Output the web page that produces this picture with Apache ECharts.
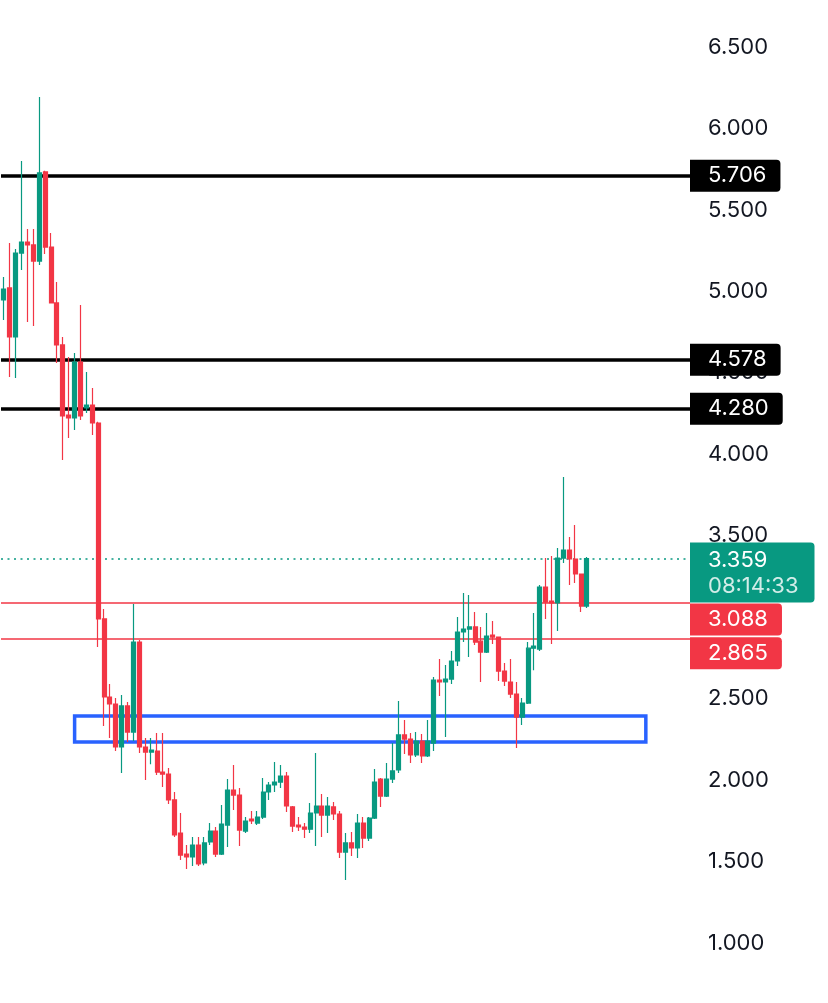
<!DOCTYPE html>
<html>
<head>
<meta charset="utf-8">
<script src="https://cdn.jsdelivr.net/npm/echarts@6/dist/echarts.min.js"></script>
<style>
html,body{margin:0;padding:0;background:#ffffff;}
#chart{width:828px;height:1003px;}
</style>
</head>
<body>
<div id="chart"></div>
<script>
// ---- data ----
const opens  = [4.947,5.021,4.720,5.235,5.303,5.285,5.186,5.733,5.272,4.929,
                4.671,4.241,4.223,4.566,4.284,4.302,4.192,2.989,2.510,2.467,
                2.203,2.455,2.295,2.847,2.203,2.172,2.178,2.049,2.037,1.878,
                1.675,1.546,1.528,1.601,1.491,1.620,1.687,1.546,1.724,1.939,
                1.908,1.687,1.761,1.736,1.773,1.927,1.970,1.988,2.025,1.835,
                1.724,1.712,1.699,1.798,1.841,1.785,1.835,1.792,1.558,1.614,
                1.583,1.736,1.644,1.767,2.006,1.902,2.006,2.062,2.277,2.252,
                2.154,2.240,2.148,2.227,2.614,2.602,2.620,2.731,2.909,2.927,
                2.940,2.853,2.786,2.890,2.878,2.669,2.602,2.528,2.387,2.473,
                2.810,2.804,3.185,3.099,3.087,3.363,3.412,3.357,3.265,3.068];
const closes = [5.014,4.720,5.235,5.303,5.285,5.186,5.727,5.272,4.929,4.671,
                4.235,4.223,4.566,4.235,4.302,4.192,2.989,2.510,2.467,2.203,
                2.455,2.295,2.847,2.203,2.172,2.184,2.049,2.037,1.878,1.663,
                1.540,1.528,1.601,1.485,1.614,1.687,1.546,1.730,1.939,1.908,
                1.693,1.749,1.749,1.773,1.927,1.970,1.988,2.025,1.841,1.718,
                1.712,1.699,1.798,1.841,1.785,1.841,1.792,1.558,1.614,1.583,
                1.736,1.644,1.767,1.988,1.902,2.006,2.056,2.277,2.252,2.154,
                2.240,2.148,2.240,2.614,2.602,2.620,2.731,2.909,2.927,2.940,
                2.847,2.786,2.884,2.878,2.669,2.608,2.528,2.387,2.473,2.810,
                2.823,3.185,3.093,3.087,3.363,3.412,3.357,3.265,3.068,3.359];
const lows   = [4.824,4.474,4.468,5.131,4.812,4.787,5.162,5.229,4.925,4.560,
                3.965,4.100,4.149,4.210,4.253,4.118,2.817,2.332,2.258,2.178,
                2.043,2.234,2.240,2.166,2.000,2.098,2.031,1.957,1.853,1.650,
                1.509,1.454,1.472,1.472,1.478,1.601,1.528,1.540,1.589,1.816,
                1.595,1.675,1.730,1.724,1.761,1.878,1.927,1.951,1.804,1.681,
                1.687,1.644,1.675,1.595,1.650,1.675,1.755,1.521,1.387,1.534,
                1.521,1.583,1.626,1.761,1.835,1.896,1.982,2.043,2.160,2.105,
                2.142,2.105,2.142,2.178,2.516,2.264,2.590,2.700,2.847,2.755,
                2.829,2.602,2.780,2.835,2.608,2.577,2.504,2.197,2.338,2.467,
                2.675,2.792,2.989,2.835,2.915,3.332,3.197,3.210,3.032,3.056];
const highs  = [5.088,5.297,5.260,5.800,5.383,5.383,6.193,5.740,5.358,5.057,
                4.720,4.597,4.621,4.916,4.505,4.407,4.200,3.050,2.590,2.504,
                2.522,2.479,3.081,2.860,2.258,2.258,2.289,2.289,2.074,1.927,
                1.798,1.601,1.650,1.650,1.650,1.736,1.712,1.847,2.006,2.092,
                1.951,1.773,1.810,1.810,2.013,1.988,2.111,2.092,2.049,1.841,
                1.773,1.736,1.859,2.166,1.914,1.896,1.865,1.810,1.675,1.681,
                1.792,1.773,1.773,2.068,2.013,2.105,2.227,2.485,2.369,2.289,
                2.295,2.283,2.369,2.633,2.743,2.706,2.792,3.001,3.148,3.136,
                3.032,2.940,3.025,2.976,2.878,2.719,2.743,2.602,2.504,2.847,
                3.025,3.197,3.363,3.375,3.424,3.860,3.492,3.566,3.265,3.369];

const resistanceLevels = [5.706, 4.578, 4.280];
const supportLevels    = [3.088, 2.865];
const supportOffsets   = [17, 15];
const lastPrice = 3.359;
const countdown = '08:14:33';
const zoneTop = 2.393, zoneBottom = 2.234;
const zoneStartIndex = 12, zoneEndIndex = 109;
const emptySlots = 17;               // blank space right of the last candle
const yTicks = {min: 1, max: 6.5, step: 0.5};

// ---- build ----
const total = opens.length + emptySlots;
const categories = [];
for (let i = 0; i < total; i++) categories.push(String(i));
const candles = opens.map((o, i) => [o, closes[i], lows[i], highs[i]]);

const UP = '#089981', DOWN = '#F23645', FONT = 'Inter, "Noto Sans", sans-serif';
const FS = 22;

const lineData = [];
resistanceLevels.forEach(v => lineData.push({
  yAxis: v,
  lineStyle: {color: '#000000', width: 3.5, type: 'solid'},
  label: {formatter: v.toFixed(3), backgroundColor: '#000000', color: '#ffffff',
          padding: [5, 14, 3, 18], borderRadius: [0, 4, 4, 0], fontSize: FS, lineHeight: 24}
}));
supportLevels.forEach((v, k) => lineData.push({
  yAxis: v,
  lineStyle: {color: DOWN, width: 1.5, type: 'solid'},
  label: {formatter: v.toFixed(3), backgroundColor: DOWN, color: '#ffffff',
          padding: [5, 14, 3, 18], borderRadius: [0, 4, 4, 0], fontSize: FS, lineHeight: 24,
          offset: [0, supportOffsets[k]]}
}));
lineData.push({
  yAxis: lastPrice,
  lineStyle: {color: UP, width: 1.6, type: [2, 4.5]},
  label: {formatter: '{a|' + lastPrice.toFixed(3) + '}\n{b|' + countdown + '}',
          backgroundColor: UP, padding: [5, 16, 3, 18], borderRadius: [0, 4, 4, 0],
          offset: [0, 14],
          rich: {a: {color: '#ffffff', fontSize: FS, lineHeight: 26, fontFamily: FONT},
                 b: {color: 'rgba(255,255,255,0.82)', fontSize: FS, lineHeight: 26, fontFamily: FONT}}}
});

const chart = echarts.init(document.getElementById('chart'), null, {renderer: 'canvas'});
chart.setOption({
  backgroundColor: '#ffffff',
  animation: false,
  grid: {left: 1, right: 138, top: 47, bottom: 60},
  xAxis: {
    type: 'category', data: categories, boundaryGap: true,
    axisLine: {show: false}, axisTick: {show: false}, axisLabel: {show: false},
    splitLine: {show: false}
  },
  yAxis: {
    type: 'value', position: 'right', min: yTicks.min, max: yTicks.max, interval: yTicks.step,
    axisLine: {show: false}, axisTick: {show: false}, splitLine: {show: false},
    axisLabel: {color: '#131722', fontSize: FS, fontFamily: FONT, margin: 18,
                padding: [4, 0, 0, 0],
                formatter: v => v.toFixed(3)}
  },
  series: [{
    type: 'candlestick',
    z: 3,
    data: candles,
    barWidth: 4.5,
    itemStyle: {color: UP, borderColor: UP, color0: DOWN, borderColor0: DOWN, borderWidth: 1.2},
    markArea: {
      z: 1, silent: true,
      itemStyle: {color: 'rgba(0,0,0,0)', borderColor: '#2962FF', borderWidth: 3.5},
      data: [[{xAxis: String(zoneStartIndex), yAxis: zoneTop},
              {xAxis: String(zoneEndIndex), yAxis: zoneBottom}]]
    },
    markLine: {
      z: 1, silent: true, symbol: ['none', 'none'],
      label: {show: true, position: 'end', distance: 0, fontFamily: FONT},
      emphasis: {disabled: true},
      data: lineData
    }
  }]
});
</script>
</body>
</html>
